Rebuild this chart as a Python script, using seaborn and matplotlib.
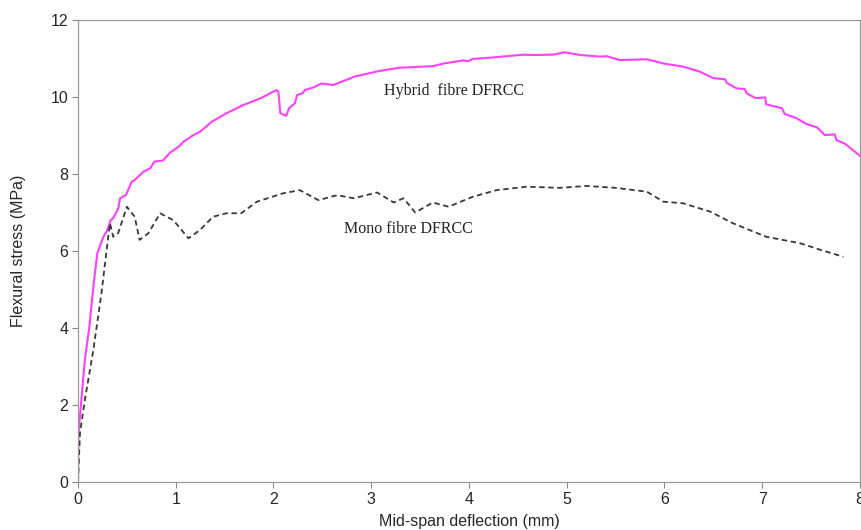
import matplotlib
matplotlib.use("Agg")
import matplotlib.pyplot as plt
import seaborn as sns
import pandas as pd

# Hybrid fibre DFRCC (deflection mm, stress MPa)
hyb_x = [0.0, 0.005, 0.07, 0.116, 0.157, 0.197, 0.26, 0.293, 0.334, 0.36, 0.413, 0.43, 0.49,
         0.55, 0.58, 0.67, 0.74, 0.78, 0.87, 0.94, 1.04, 1.08, 1.18, 1.25, 1.37, 1.52, 1.69,
         1.84, 1.87, 2.03, 2.05, 2.07, 2.13, 2.16, 2.22, 2.24, 2.30,
         2.32, 2.41, 2.49, 2.61, 2.83, 3.09, 3.29, 3.63, 3.74, 3.94, 3.99, 4.04, 4.21, 4.56,
         4.66, 4.86, 4.98, 5.14,
         5.34, 5.41, 5.54, 5.82, 5.99, 6.19, 6.36, 6.50, 6.62, 6.64, 6.74, 6.82, 6.84, 6.93,
         7.03, 7.04, 7.20, 7.23, 7.35, 7.45, 7.56, 7.64, 7.74, 7.76, 7.85, 8.0]
hyb_y = [0.0, 1.27, 3.17, 4.03, 5.07, 5.94, 6.37, 6.5, 6.8, 6.85, 7.11, 7.37, 7.45,
         7.8, 7.84, 8.06, 8.15, 8.32, 8.35, 8.55, 8.73, 8.84, 9.01, 9.1, 9.36, 9.58, 9.79,
         9.94, 9.97, 10.18, 10.14, 9.58, 9.51, 9.71, 9.84, 10.05, 10.1,
         10.18, 10.25, 10.35, 10.31, 10.53, 10.68, 10.76, 10.8, 10.87, 10.95, 10.93, 10.99, 11.02, 11.1,
         11.09, 11.1, 11.16, 11.09,
         11.05, 11.06, 10.96, 10.98, 10.87, 10.79, 10.66, 10.49, 10.46, 10.36, 10.22, 10.21, 10.1, 9.97,
         9.99, 9.81, 9.71, 9.56, 9.45, 9.30, 9.21, 9.01, 9.03, 8.88, 8.78, 8.47]

# Mono fibre DFRCC
mono_x = [0.0, 0.02, 0.07, 0.157, 0.24, 0.293, 0.327, 0.36, 0.41, 0.50, 0.58, 0.63, 0.72,
          0.84, 0.975, 1.13, 1.25, 1.38, 1.52, 1.67, 1.83, 2.1, 2.27, 2.46, 2.65, 2.82,
          3.06, 3.23, 3.33, 3.45, 3.63, 3.79, 4.04, 4.28, 4.59, 4.93, 5.2, 5.5, 5.82, 5.99,
          6.19, 6.47, 6.70, 7.04, 7.39, 7.62, 7.83]
mono_y = [0.0, 1.26, 2.13, 3.43, 4.9, 6.03, 6.72, 6.37, 6.46, 7.15, 6.89, 6.29, 6.46,
          6.98, 6.8, 6.33, 6.55, 6.89, 6.98, 6.98, 7.28, 7.5, 7.58, 7.32, 7.45, 7.37,
          7.52, 7.26, 7.37, 7.0, 7.26, 7.15, 7.41, 7.58, 7.67, 7.64, 7.69, 7.64, 7.54, 7.28,
          7.24, 7.02, 6.72, 6.37, 6.2, 6.01, 5.85]

x_ticks = [0, 1, 2, 3, 4, 5, 6, 7, 8]
y_ticks = [0, 2, 4, 6, 8, 10, 12]

sns.set_style("white")
plt.rcParams['font.family'] = ['Liberation Sans', 'DejaVu Sans']

fig = plt.figure(figsize=(8.62, 5.30), dpi=100)
ax = fig.add_axes([78/862, 48/530, (860-78)/862, (482-20)/530])

hyb = pd.DataFrame({"x": hyb_x, "y": hyb_y})
mono = pd.DataFrame({"x": mono_x, "y": mono_y})
sns.lineplot(data=hyb, x="x", y="y", sort=False, ax=ax, color="#ff40ff", linewidth=1.5,
             solid_joinstyle="round")
sns.lineplot(data=mono, x="x", y="y", sort=False, ax=ax, color="#383838", linewidth=1.3,
             linestyle=(0, (3, 2)))

ax.set_xlim(0, 8)
ax.set_ylim(0, 12)
ax.set_xticks(x_ticks)
ax.set_yticks(y_ticks)
ax.set_xticklabels([str(t) for t in x_ticks], fontsize=11.5)
ax.set_yticklabels([str(t) for t in y_ticks], fontsize=11.5)
ax.set_xlabel("Mid-span deflection (mm)", fontsize=11.5, labelpad=5)
ax.set_ylabel("Flexural stress (MPa)", fontsize=11.5, labelpad=18)
ax.tick_params(axis="both", direction="out", length=4, width=0.8, color="#888888", pad=3,
               left=True, bottom=True)
for s in ax.spines.values():
    s.set_color("#999999")
    s.set_linewidth(0.9)

ax.text(3.85, 10.16, "Hybrid  fibre DFRCC", fontsize=11.5, family=['Liberation Serif'],
        ha="center", va="center", color="#222222")
ax.text(3.38, 6.57, "Mono fibre DFRCC", fontsize=11.5, family=['Liberation Serif'],
        ha="center", va="center", color="#222222")

fig.savefig("out.png", dpi=100)
